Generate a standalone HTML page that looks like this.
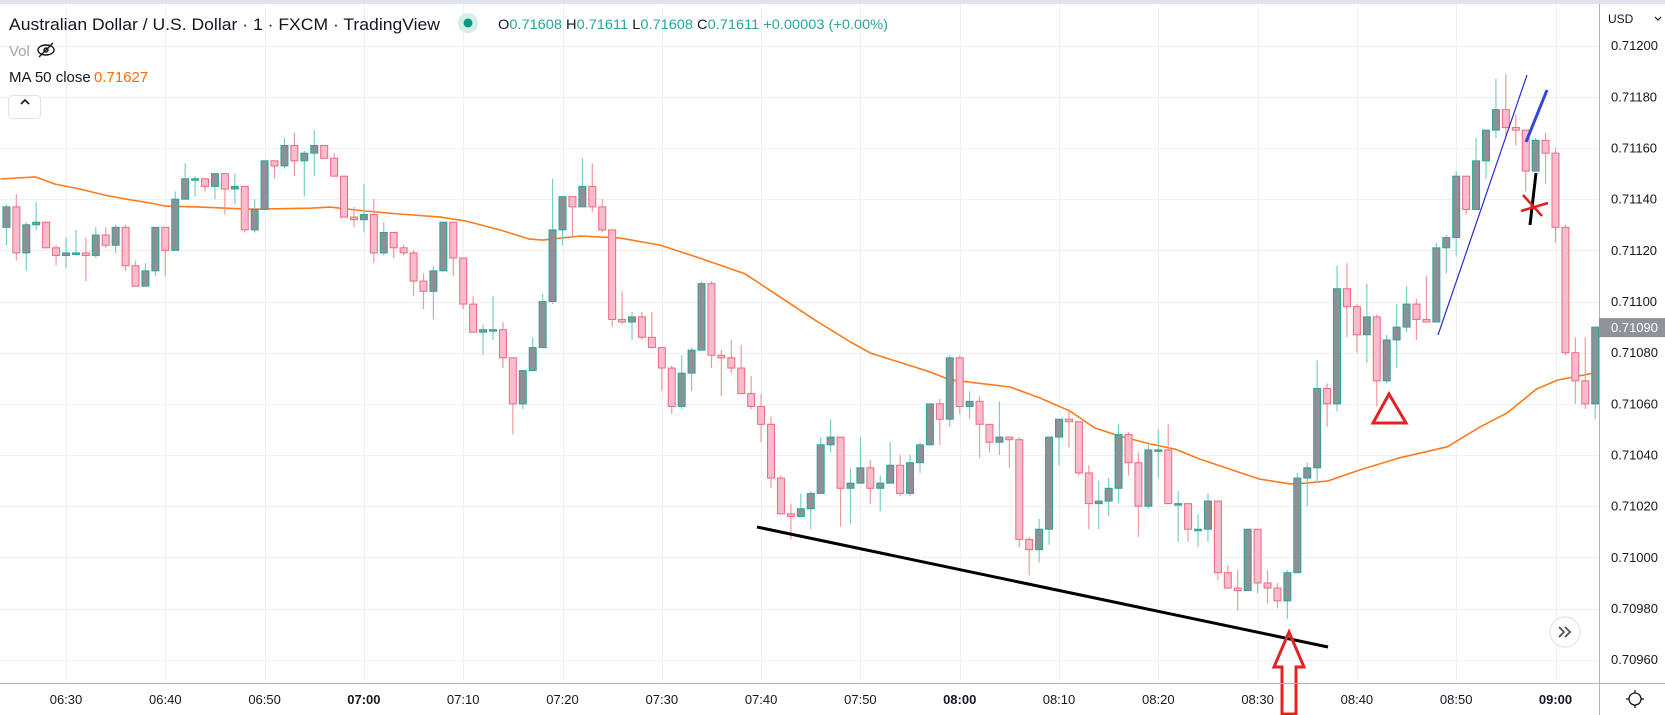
<!DOCTYPE html>
<html><head><meta charset="utf-8"><style>
html,body{margin:0;padding:0;background:#fff;width:1665px;height:715px;overflow:hidden}
svg{display:block;font-family:"Liberation Sans",sans-serif}
</style></head><body>
<svg id="chart" width="1665" height="715" viewBox="0 0 1665 715" xmlns="http://www.w3.org/2000/svg">
<rect x="0" y="0" width="1665" height="715" fill="#ffffff"/>
<rect x="0" y="0" width="1665" height="4" fill="#e0e3eb"/>
<g id="grid"></g>
<g id="ma"></g>
<g id="candles"></g>
<g id="drawings">
<line x1="757" y1="527" x2="1328" y2="647" stroke="#000" stroke-width="3"/>
<line x1="1438" y1="335" x2="1527" y2="75" stroke="#2b2bd6" stroke-width="1.2"/>
<line x1="1526" y1="142" x2="1547" y2="90" stroke="#3347e0" stroke-width="3"/>
<line x1="1536" y1="173" x2="1530" y2="225" stroke="#000" stroke-width="3"/>
<g stroke="#e02020" stroke-width="2.5"><line x1="1521" y1="211" x2="1548" y2="203"/><line x1="1523" y1="195" x2="1542" y2="216"/></g>
<polygon points="1389,394 1373,423 1406,423" fill="none" stroke="#e52222" stroke-width="3"/>
<polygon points="1289,632 1304,667 1296,667 1296,714 1282,714 1282,667 1274,667" fill="none" stroke="#e52222" stroke-width="3"/>
</g>
<line x1="0" y1="683.5" x2="1665" y2="683.5" stroke="#b2b5be" stroke-width="1"/>
<line x1="1599.5" y1="4" x2="1599.5" y2="715" stroke="#b2b5be" stroke-width="1"/>
<g id="yaxis" font-size="13" fill="#131722"></g>
<g id="xaxis" font-size="13" fill="#131722"></g>
<text x="1608" y="23" font-size="12" fill="#131722">USD</text>
<path d="M1655 17 l3 3 l3 -3" fill="none" stroke="#131722" stroke-width="1.2"/>
<g id="lastprice"></g>
<g transform="translate(1635,699)"><circle r="6" fill="none" stroke="#131722" stroke-width="1.3"/><g stroke="#131722" stroke-width="1.3"><line x1="0" y1="-9" x2="0" y2="-6"/><line x1="0" y1="6" x2="0" y2="9"/><line x1="-9" y1="0" x2="-6" y2="0"/><line x1="6" y1="0" x2="9" y2="0"/></g></g>
<g><circle cx="1565" cy="632" r="15" fill="#fff" stroke="#e6e8ee" stroke-width="1.5"/><path d="M1559 627 l5 5 l-5 5 M1565 627 l5 5 l-5 5" fill="none" stroke="#50535e" stroke-width="1.8"/></g>
<text x="9" y="30" font-size="17" fill="#131722" textLength="431" lengthAdjust="spacingAndGlyphs">Australian Dollar / U.S. Dollar · 1 · FXCM · TradingView</text>
<circle cx="468" cy="23" r="10" fill="#d4eee8"/>
<circle cx="468" cy="23" r="4.5" fill="#089981"/>
<text x="498" y="29" font-size="14" fill="#26a69a" textLength="390" lengthAdjust="spacingAndGlyphs"><tspan fill="#131722">O</tspan>0.71608 <tspan fill="#131722">H</tspan>0.71611 <tspan fill="#131722">L</tspan>0.71608 <tspan fill="#131722">C</tspan>0.71611 +0.00003 (+0.00%)</text>
<text x="9" y="56" font-size="15" fill="#a3a6af">Vol</text>
<g fill="none" stroke="#131722" stroke-width="1.4"><ellipse cx="46" cy="50" rx="8" ry="5"/><circle cx="46" cy="50" r="2"/><line x1="39" y1="57" x2="53" y2="43"/></g>
<text x="9" y="82" font-size="15" fill="#131722">MA 50 close</text>
<text x="94" y="82" font-size="15" fill="#ff6d00">0.71627</text>
<rect x="8.5" y="95.5" width="32" height="23" rx="4" fill="#fff" stroke="#e0e3eb"/>
<path d="M21 104 l4 -4 l4 4" fill="none" stroke="#131722" stroke-width="1.6"/>
</svg>
<script>
// prices in units of 0.00001 (e.g. 71129 = 0.71129); first candle at 06:24
const startMinute = -6;
const opens  = [71129,71137,71119,71130,71131,71121,71118,71119,71119,71118,71126,71122,71129,71114,71106,71112,71129,71120,71140,71148,71148,71145,71150,71144,71145,71128,71136,71155,71153,71161,71155,71158,71161,71156,71149,71133,71132,71134,71119,71127,71121,71119,71108,71104,71112,71131,71117,71099,71088,71089,71089,71078,71060,71073,71082,71100,71128,71141,71137,71145,71137,71128,71093,71092,71094,71086,71082,71074,71059,71072,71081,71107,71079,71078,71074,71064,71059,71052,71031,71017,71016,71019,71025,71044,71047,71027,71029,71035,71027,71029,71036,71025,71037,71044,71060,71054,71078,71059,71061,71052,71045,71047,71046,71007,71003,71011,71047,71054,71053,71033,71021,71022,71027,71048,71037,71020,71042,71042,71021,71021,71011,71011,71022,70994,70988,70987,71011,70990,70988,70983,70994,71031,71035,71066,71060,71105,71098,71087,71094,71069,71085,71090,71099,71093,71092,71121,71125,71149,71136,71155,71167,71175,71168,71167,71151,71163,71158,71129,71080,71069,71060];
const highs  = [71138,71142,71131,71139,71131,71122,71125,71128,71125,71129,71129,71130,71130,71116,71115,71129,71129,71143,71154,71149,71148,71150,71150,71150,71145,71140,71155,71155,71164,71166,71159,71167,71161,71158,71149,71137,71146,71140,71131,71127,71122,71120,71111,71114,71131,71131,71117,71102,71091,71102,71092,71078,71073,71086,71103,71148,71141,71141,71156,71154,71140,71128,71104,71096,71096,71096,71082,71075,71079,71082,71108,71108,71081,71085,71083,71071,71064,71055,71032,71021,71025,71026,71047,71054,71047,71035,71047,71038,71032,71045,71040,71040,71045,71060,71062,71079,71079,71065,71063,71052,71061,71047,71047,71008,71015,71047,71054,71058,71053,71036,71030,71031,71052,71049,71041,71044,71050,71052,71026,71021,71017,71025,71022,70997,70995,71011,71011,70995,70990,70995,71033,71037,71077,71068,71114,71115,71099,71107,71095,71087,71099,71106,71101,71110,71123,71126,71151,71149,71164,71167,71187,71189,71173,71167,71164,71166,71160,71130,71086,71086,71090];
const lows   = [71122,71116,71112,71128,71121,71114,71113,71118,71108,71117,71121,71119,71112,71106,71106,71110,71110,71120,71140,71141,71143,71140,71134,71138,71127,71127,71136,71148,71152,71149,71141,71149,71156,71149,71133,71129,71127,71115,71118,71117,71118,71102,71097,71093,71112,71110,71097,71088,71079,71085,71074,71048,71058,71073,71082,71099,71122,71125,71137,71135,71127,71090,71091,71085,71085,71082,71065,71056,71058,71065,71081,71074,71063,71072,71064,71058,71045,71027,71017,71007,71016,71011,71025,71041,71012,71013,71029,71021,71018,71029,71024,71024,71033,71044,71044,71051,71056,71054,71039,71041,71040,71035,71004,70993,70998,71005,71036,71043,71032,71011,71011,71016,71021,71032,71008,71019,71031,71021,71006,71006,71004,71006,70991,70988,70979,70987,70986,70982,70980,70976,70994,71020,71029,71051,71057,71086,71080,71076,71059,71068,71074,71088,71085,71092,71092,71111,71118,71134,71136,71148,71164,71164,71161,71143,71151,71146,71123,71079,71060,71058,71054];
const closes = [71137,71119,71130,71131,71121,71118,71119,71119,71118,71126,71122,71129,71114,71106,71112,71129,71120,71140,71148,71148,71145,71150,71144,71145,71128,71136,71155,71153,71161,71155,71158,71161,71156,71149,71133,71132,71134,71119,71127,71121,71119,71108,71104,71112,71131,71117,71099,71088,71089,71089,71078,71060,71073,71082,71100,71128,71141,71137,71145,71137,71128,71093,71092,71094,71086,71082,71074,71059,71072,71081,71107,71079,71078,71074,71064,71059,71052,71031,71017,71016,71019,71025,71044,71047,71027,71029,71035,71027,71029,71036,71025,71037,71044,71060,71054,71078,71059,71061,71052,71045,71047,71046,71007,71003,71011,71047,71054,71053,71033,71021,71022,71027,71048,71037,71020,71042,71042,71021,71021,71011,71011,71022,70994,70988,70987,71011,70990,70988,70983,70994,71031,71035,71066,71060,71105,71098,71087,71094,71069,71085,71090,71099,71093,71092,71121,71125,71149,71136,71155,71167,71175,71168,71167,71151,71163,71158,71129,71080,71069,71060,71090];
// MA 50 samples: minute offset from 06:30, value
const maMinutes = [-6.6,-3.1,-1.1,1.4,3.9,5.9,8.5,10,13.5,18.5,24.6,26.6,30.1,33.6,37.7,40.2,43.7,46.7,48,51.8,55.8,59.8,63.8,68.4,75.4,79,81,84.5,87,89,92.5,95.1,98.1,101.1,103.6,106.1,109.2,111.7,114.2,117.2,120.2,123.3,124.8,127.1,130.3,134.3,139.1,142.4,145.1,148.1,150.2,153.8];
const maValues  = [71147.9,71148.7,71145.9,71144,71141.6,71140.1,71138.5,71137.3,71136.9,71136.1,71136.5,71136.9,71135.4,71134.2,71133,71131.5,71128,71124.4,71124,71125.6,71124.8,71122.1,71117,71110.8,71092.8,71084.2,71079.9,71075.6,71072.5,71069.4,71067.8,71066.6,71062.3,71057.2,71050.6,71047.4,71044.3,71042.3,71038.4,71034.5,71030.6,71028.7,71029,71029.9,71034.2,71038.9,71043.2,71051,71056.4,71065.8,71069.3,71072];
const priceTicks = [71200,71180,71160,71140,71120,71100,71080,71060,71040,71020,71000,70980,70960];
const timeTicks = ["06:30","06:40","06:50","07:00","07:10","07:20","07:30","07:40","07:50","08:00","08:10","08:20","08:30","08:40","08:50","09:00"];
const lastPrice = 71090;

const NS = "http://www.w3.org/2000/svg";
const X0 = 66, PXMIN = 9.93, Y0 = 45.7, PXP = 2.5583;
function xm(m){ return X0 + m*PXMIN; }
function yp(p){ return Y0 + (71200 - p)*PXP; }
function mk(tag, attrs, parent){ const e=document.createElementNS(NS,tag); for(const k in attrs) e.setAttribute(k,attrs[k]); parent.appendChild(e); return e; }
function fmt(p){ return (p/100000).toFixed(5); }

const grid = document.getElementById('grid');
const yaxis = document.getElementById('yaxis');
priceTicks.forEach(p=>{
  const y = Math.round(yp(p))+0.5;
  const l = mk('line',{x1:0,y1:y,x2:1599,y2:y,stroke:'#edf0f5','stroke-width':1},grid);
  
  
  const t = mk('text',{x:1611,y:yp(p)+4.5},yaxis);
  t.textContent = fmt(p);
  
  
});
const xaxis = document.getElementById('xaxis');
timeTicks.forEach((lab,i)=>{
  const x = Math.round(xm(i*10))+0.5;
  const l = mk('line',{x1:x,y1:4,x2:x,y2:683,stroke:'#edf0f5','stroke-width':1},grid);
  
  
  const bold = lab.endsWith(':00');
  const t = mk('text',{x:xm(i*10),y:704,'text-anchor':'middle','font-weight':bold?'bold':'normal'},xaxis);
  t.textContent = lab;
  
  
});

const ma = document.getElementById('ma');
const pts = maMinutes.map((m,i)=>xm(m).toFixed(1)+','+yp(maValues[i]).toFixed(1)).join(' ');
const pl = mk('polyline',{points:pts,fill:'none',stroke:'#ff7a1a','stroke-width':1.6,'stroke-linejoin':'round'},ma);



const cg = document.getElementById('candles');
opens.forEach((o,i)=>{
  const c = closes[i], h = highs[i], l = lows[i];
  const x = xm(startMinute+i);
  if (x > 1603) return;
  const up = c >= o;
  const g = mk('g',{},cg);
  
  
  mk('line',{x1:x,y1:yp(h),x2:x,y2:yp(l),stroke:up?'#7ccfc4':'#f09a9e','stroke-width':1.2},g);
  const top = yp(Math.max(o,c)), bot = yp(Math.min(o,c));
  mk('rect',{x:x-3.5,y:top,width:7,height:Math.max(1.5,bot-top),fill:up?'#8f9096':'#f8bbd0',stroke:up?'#26a69a':'#ef6b76','stroke-width':1},g);
});

const lp = document.getElementById('lastprice');
const ly = yp(lastPrice);
mk('rect',{x:1599,y:ly-9,width:66,height:19,fill:'#8f9299'},lp);
const lt = mk('text',{x:1611,y:ly+5,'font-size':13,fill:'#ffffff'},lp);
lt.textContent = fmt(lastPrice);
</script>
</body></html>
